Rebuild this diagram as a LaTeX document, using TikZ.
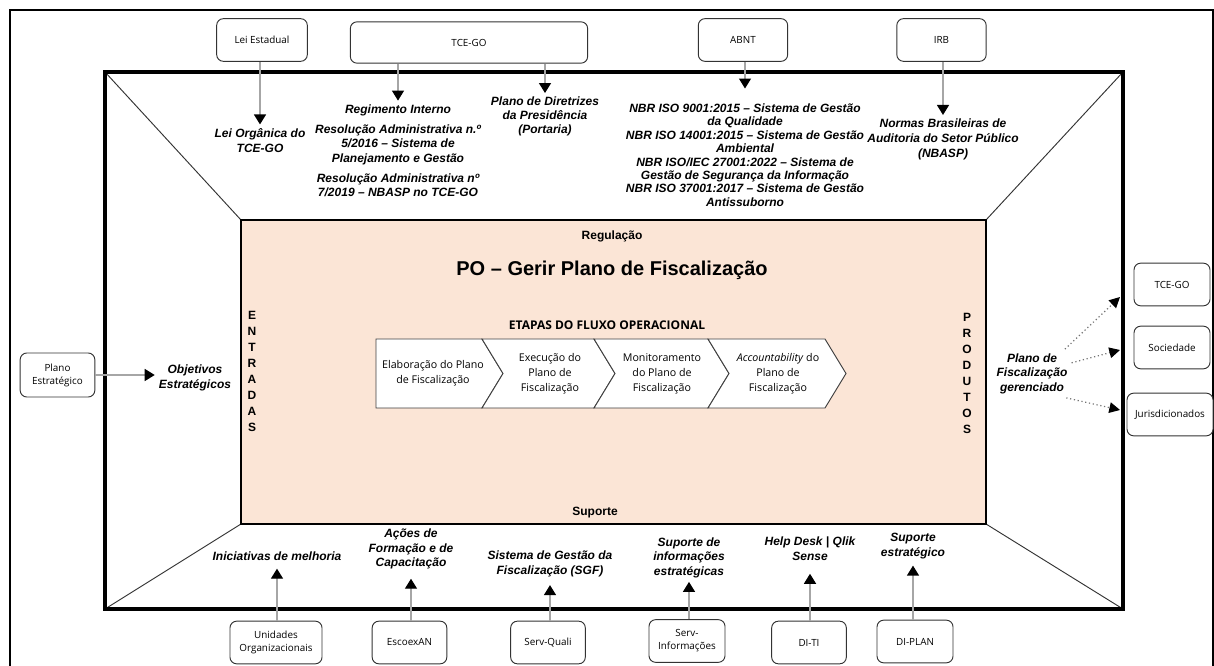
\documentclass[tikz,border=0pt]{standalone}
\usepackage{fontspec}
\setmainfont{Liberation Sans}
\newfontfamily\uifont{Open Sans}
\usetikzlibrary{arrows.meta, positioning, calc}

\definecolor{peach}{HTML}{FBE5D6}
\definecolor{linegray}{HTML}{A6A6A6}

\begin{document}
\begin{tikzpicture}[
    x=0.75pt, y=-0.75pt,
    %% boxes of the agents around the frame
    orgbox/.style = {
      draw=black!80, line width=0.7pt,
      rounded corners=5pt, fill=white,
      align=center, font=\uifont\fontsize{7.4}{9.8}\selectfont,
      inner sep=1.5pt, minimum height=32pt},
    %% italic labels inside the frame
    lbl/.style = {
      align=center, font=\bfseries\itshape\fontsize{9}{10.9}\selectfont,
      inner sep=3pt},
    %% steps of the operational flow
    chev/.style  = {draw=black!75, line width=0.7pt, fill=white},
    chtxt/.style = {align=center, font=\uifont\fontsize{8}{11.2}\selectfont, inner sep=0pt},
    vtxt/.style  = {align=center, font=\bfseries\fontsize{9}{12}\selectfont, inner sep=0pt},
    %% Arrows
    arr/.style  = {draw=linegray, line width=1pt, -{Triangle[length=7.5pt, width=9pt, color=black]}},
    darr/.style = {draw=black!55, line width=0.9pt, dotted, -{Triangle[length=8pt, width=8pt, color=black]}},
  ]

    \useasboundingbox (0,0) rectangle (1214,666);
    \fill[white] (0,0) rectangle (1214,666);
    \draw[line width=1.5pt] (10,10) rectangle (1213,690);

    %% ── Frame and process area ────────────────────────────────────────
    \coordinate (inNW) at (105,72);  \coordinate (inNE) at (1123,72);
    \coordinate (inSE) at (1123,609); \coordinate (inSW) at (105,609);
    \coordinate (pNW) at (241,220);  \coordinate (pNE) at (986,220);
    \coordinate (pSE) at (986,524);  \coordinate (pSW) at (241,524);

    \fill[white] (inNW) rectangle (inSE);
    \draw[line width=0.7pt, black!80] (inNW) -- (pNW) (inNE) -- (pNE)
                                      (inSE) -- (pSE) (inSW) -- (pSW);
    \draw[line width=3pt] (inNW) rectangle (inSE);
    \draw[line width=1.8pt, fill=peach] (pNW) rectangle (pSE);

    \node[font=\bfseries\fontsize{9}{11}\selectfont] (regul) at (612,236) {Regulação};
    \node[font=\bfseries\fontsize{15}{18}\selectfont] (titulo) at (612,270) {PO – Gerir Plano de Fiscalização};
    \node[font=\uifont\bfseries\fontsize{9}{11}\selectfont] (etapas) at (607,325) {ETAPAS DO FLUXO OPERACIONAL};
    \node[font=\bfseries\fontsize{9}{11}\selectfont] (suporte) at (595,513) {Suporte};
    \node[vtxt] (entradas) at (252,371) {E\\N\\T\\R\\A\\D\\A\\S};
    \node[vtxt] (produtos) at (967,373) {P\\R\\O\\D\\U\\T\\O\\S};

    %% ── Steps ─────────────────────────────────────────────────────────
    \draw[chev] (376,339) -- (482,339) -- (503,373.5) -- (482,408) -- (376,408) -- cycle;
    \draw[chev] (482,339) -- (594,339) -- (615,373.5) -- (594,408) -- (482,408) -- (503,373.5) -- cycle;
    \draw[chev] (594,339) -- (708,339) -- (729,373.5) -- (708,408) -- (594,408) -- (615,373.5) -- cycle;
    \draw[chev] (708,339) -- (825,339) -- (846,373.5) -- (825,408) -- (708,408) -- (729,373.5) -- cycle;

    \node[chtxt] (etapa1) at (433,373) {Elaboração do Plano\\de Fiscalização};
    \node[chtxt] (etapa2) at (550,374) {Execução do\\Plano de\\Fiscalização};
    \node[chtxt] (etapa3) at (662,374) {Monitoramento\\do Plano de\\Fiscalização};
    \node[chtxt] (etapa4) at (778,374) {\textit{Accountability} do\\Plano de\\Fiscalização};

    %% ── Regulation (top) ──────────────────────────────────────────────
    \node[orgbox, minimum width=68pt]                     (leiest) at (262,40)   {Lei Estadual};
    \node[orgbox, minimum width=178pt, minimum height=31pt] (tcesup) at (469,42.5) {TCE-GO};
    \node[orgbox, minimum width=67pt]                     (abnt)   at (743,40)   {ABNT};
    \node[orgbox, minimum width=67pt]                     (irb)    at (941.5,40) {IRB};

    \node[lbl] (leiorg) at (260,140.5) {Lei Orgânica do\\TCE-GO};
    \node[lbl] (regim) at (398,151) {Regimento Interno\\[4pt]
      Resolução Administrativa n.º\\5/2016 – Sistema de\\Planejamento e Gestão\\[4pt]
      Resolução Administrativa nº\\7/2019 – NBASP no TCE-GO};
    \node[lbl, font=\bfseries\itshape\fontsize{9}{10.2}\selectfont] (diretriz) at (545,116.5)
      {Plano de Diretrizes\\da Presidência\\(Portaria)};
    \node[lbl, font=\bfseries\itshape\fontsize{9}{10.1}\selectfont] (nbr) at (745,155)
      {NBR ISO 9001:2015 – Sistema de Gestão\\da Qualidade\\NBR ISO 14001:2015 – Sistema de Gestão\\Ambiental\\
       NBR ISO/IEC 27001:2022 – Sistema de\\Gestão de Segurança da Informação\\NBR ISO 37001:2017 – Sistema de Gestão\\Antissuborno};
    \node[lbl, font=\bfseries\itshape\fontsize{9}{11}\selectfont] (nbasp) at (943,139.5)
      {Normas Brasileiras de\\Auditoria do Setor Público\\(NBASP)};

    \draw[arr] (leiest.south -| leiorg) -- (leiorg);
    \draw[arr] (tcesup.south -| regim) -- (regim);
    \draw[arr] (tcesup.south -| diretriz) -- (diretriz);
    \draw[arr, shorten >=8pt] (abnt.south -| nbr) -- (nbr);
    \draw[arr] (irb.south -| nbasp) -- (nbasp);

    %% ── Inputs (left) ─────────────────────────────────────────────────
    \node[orgbox, minimum width=56pt, minimum height=33pt] (planoest) at (57.5,375) {Plano\\Estratégico};
    \node[lbl] (objetivos) at (195,378) {Objetivos\\Estratégicos};
    \draw[arr] (planoest) -- (planoest -| objetivos.west);

    %% ── Products (right) ──────────────────────────────────────────────
    \node[orgbox, minimum width=57pt]   (tcedest)   at (1172,284.5) {TCE-GO};
    \node[orgbox, minimum width=57pt]   (sociedade) at (1172,347.5) {Sociedade};
    \node[orgbox, minimum width=64.5pt] (jurisd)    at (1170,414.5) {Jurisdicionados};
    \node[lbl] (gerenc) at (1032,373.5) {Plano de\\Fiscalização\\gerenciado};

    \coordinate (s1) at (1120,297);
    \coordinate (s2) at (1120,350);
    \coordinate (s3) at (1120,410);
    \draw[darr] ([xshift=-5pt]gerenc.north east) -- (s1);
    \draw[darr] ([yshift=8pt]gerenc.east) -- (s2);
    \draw[darr] ([xshift=-4pt]gerenc.south east) -- (s3);

    %% ── Support (bottom) ──────────────────────────────────────────────
    \node[orgbox, minimum width=69pt] (unidades)  at (276,642.5)   {Unidades\\Organizacionais};
    \node[orgbox, minimum width=56pt] (escoex)    at (409.5,642.5) {EscoexAN};
    \node[orgbox, minimum width=56pt] (servquali) at (548,642.5)   {Serv-Quali};
    \node[orgbox, minimum width=57pt] (servinfo)  at (687,641)     {Serv-\\Informações};
    \node[orgbox, minimum width=56pt] (diti)      at (809,642.5)   {DI-TI};
    \node[orgbox, minimum width=57pt] (diplan)    at (915,641.5)   {DI-PLAN};

    \node[lbl] (inicia)   at (277,556)   {Iniciativas de melhoria};
    \node[lbl] (acoes)    at (411,549)   {Ações de\\Formação e de\\Capacitação};
    \node[lbl] (sgf)      at (550,564)   {Sistema de Gestão da\\Fiscalização (SGF)};
    \node[lbl] (infoestr) at (689,557.5) {Suporte de\\informações\\estratégicas};
    \node[lbl] (helpdesk) at (810,548.5) {Help Desk | Qlik\\Sense};
    \node[lbl] (supestr)  at (913,546)   {Suporte\\estratégico};

    \draw[arr, shorten >=3pt] (unidades.north -| inicia) -- (inicia);
    \draw[arr, shorten >=4pt] (escoex.north -| acoes) -- (acoes);
    \draw[arr, shorten >=3pt] (servquali.north -| sgf) -- (sgf);
    \draw[arr] (servinfo.north -| infoestr) -- (infoestr);
    \draw[arr, shorten >=7pt] (diti.north -| helpdesk) -- (helpdesk);
    \draw[arr, shorten >=2pt] (diplan.north -| supestr) -- (supestr);

  \end{tikzpicture}
\end{document}
